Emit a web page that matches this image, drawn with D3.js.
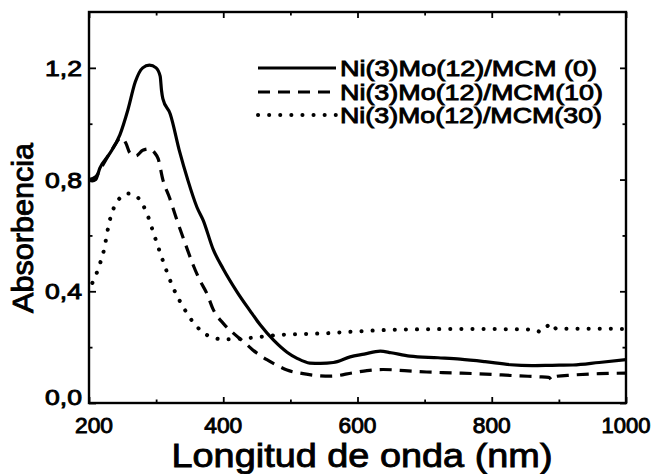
<!DOCTYPE html>
<html><head><meta charset="utf-8">
<script src="https://cdn.jsdelivr.net/npm/d3@7"></script>
<style>body{margin:0;background:#fff}svg{display:block}text{font-family:"Liberation Sans",Arial,sans-serif;fill:#000}</style>
</head><body><svg id="c" width="656" height="474"></svg>
<script>
const seriesNames = ["Ni(3)Mo(12)/MCM (0)", "Ni(3)Mo(12)/MCM(10)", "Ni(3)Mo(12)/MCM(30)"];
const xTicks = [200, 400, 600, 800, 1000];
const yTicks = [0, 0.4, 0.8, 1.2];
const yTickLabels = ["0,0", "0,4", "0,8", "1,2"];
const xMinor = [300, 500, 700, 900];
const yMinor = [0.2, 0.6, 1.0];

const solid = [[200,0.80],[205,0.795],[210,0.80],[216,0.84],[230,0.89],[246,0.96],[258,1.05],[269,1.15],[280,1.20],[290,1.21],[300,1.20],[306,1.17],[308,1.12],[310,1.09],[321,1.035],[335,0.90],[347,0.80],[361,0.70],[370,0.655],[385,0.55],[400,0.48],[420,0.40],[440,0.33],[455,0.28],[475,0.225],[495,0.182],[510,0.16],[529,0.143],[545,0.142],[564,0.145],[589,0.165],[610,0.175],[634,0.186],[650,0.18],[678,0.168],[720,0.162],[753,0.157],[790,0.148],[828,0.137],[860,0.134],[890,0.135],[921,0.136],[960,0.145],[1000,0.155]];
const dashed = [[200,0.80],[210,0.81],[220,0.85],[235,0.91],[248,0.95],[255,0.93],[261,0.895],[270,0.885],[280,0.905],[290,0.91],[298,0.895],[303,0.875],[310,0.80],[320,0.735],[331,0.655],[345,0.56],[355,0.495],[365,0.44],[376,0.39],[385,0.335],[400,0.285],[415,0.25],[430,0.22],[444,0.19],[465,0.155],[480,0.135],[495,0.118],[519,0.105],[540,0.098],[560,0.096],[593,0.108],[614,0.116],[638,0.12],[670,0.116],[703,0.111],[740,0.108],[778,0.105],[842,0.097],[870,0.094],[885,0.092],[890,0.082],[895,0.095],[920,0.10],[960,0.105],[1000,0.107]];
const dotted = [[205,0.43],[209,0.45],[215,0.49],[221,0.535],[231,0.655],[243,0.725],[258,0.75],[273,0.735],[286,0.68],[298,0.595],[310,0.51],[325,0.415],[340,0.345],[355,0.29],[376,0.243],[400,0.228],[435,0.232],[480,0.243],[555,0.25],[604,0.257],[650,0.262],[700,0.264],[760,0.265],[843,0.264],[865,0.262],[872,0.255],[880,0.27],[890,0.285],[896,0.266],[940,0.266],[1000,0.265]];
const seriesData = [solid, dashed, dotted];

const svg = d3.select("#c");
const L = 89, R = 626, T = 12, B = 403;
const x = d3.scaleLinear().domain([200, 1000]).range([L, R]);
const y = d3.scaleLinear().domain([0, 1.4]).range([B, T]);

const styles = [
  {dash: null, width: 3.2, cap: "butt"},
  {dash: "12,8", width: 3.2, cap: "butt"},
  {dash: "0.1,11", width: 4, cap: "round"}
];

const line = d3.line().x(d => x(d[0])).y(d => y(d[1])).curve(d3.curveMonotoneX);
seriesData.forEach((s, i) => {
  svg.append("path").attr("d", line(s)).attr("fill", "none").attr("stroke", "#000")
    .attr("stroke-width", styles[i].width).attr("stroke-dasharray", styles[i].dash)
    .attr("stroke-linecap", styles[i].cap).attr("stroke-linejoin", "round");
});

// frame
svg.append("rect").attr("x", L).attr("y", T).attr("width", R - L).attr("height", B - T)
  .attr("fill", "none").attr("stroke", "#000").attr("stroke-width", 2.4);

// axes with inward ticks
const gB = svg.append("g").attr("transform", `translate(0,${B})`)
  .call(d3.axisBottom(x).tickValues(xTicks).tickSize(-6).tickFormat(""));
const gBm = svg.append("g").attr("transform", `translate(0,${B})`)
  .call(d3.axisBottom(x).tickValues(xMinor).tickSize(-3.5).tickFormat(""));
const gT = svg.append("g").attr("transform", `translate(0,${T})`)
  .call(d3.axisTop(x).tickValues(xTicks).tickSize(-6).tickFormat(""));
const gTm = svg.append("g").attr("transform", `translate(0,${T})`)
  .call(d3.axisTop(x).tickValues(xMinor).tickSize(-3.5).tickFormat(""));
const gL = svg.append("g").attr("transform", `translate(${L},0)`)
  .call(d3.axisLeft(y).tickValues(yTicks).tickSize(-7).tickFormat(""));
const gLm = svg.append("g").attr("transform", `translate(${L},0)`)
  .call(d3.axisLeft(y).tickValues(yMinor).tickSize(-3.5).tickFormat(""));
const gR = svg.append("g").attr("transform", `translate(${R},0)`)
  .call(d3.axisRight(y).tickValues(yTicks).tickSize(-6).tickFormat(""));
const gRm = svg.append("g").attr("transform", `translate(${R},0)`)
  .call(d3.axisRight(y).tickValues(yMinor).tickSize(-3.5).tickFormat(""));
[gB, gBm, gT, gTm, gL, gLm, gR, gRm].forEach(g => {
  g.select(".domain").remove();
  g.selectAll("line").attr("stroke", "#000").attr("stroke-width", 1.8);
});

const tstyle = sel => sel.attr("stroke", "#000").attr("stroke-width", 0.9).attr("lengthAdjust", "spacingAndGlyphs");

// x tick labels
svg.append("g").selectAll("text").data(xTicks).join("text")
  .attr("x", d => x(d) + (d === 200 ? 5 : 0)).attr("y", 433)
  .attr("text-anchor", "middle").attr("font-size", 22)
  .attr("textLength", d => String(d).length === 4 ? 49 : 38)
  .text(d => d).call(tstyle);

// y tick labels
svg.append("g").selectAll("text").data(yTicks).join("text")
  .attr("x", 82).attr("y", (d, i) => y(d) + 8 - (d === 0 ? 6 : 0))
  .attr("text-anchor", "end").attr("font-size", 22).attr("textLength", 37)
  .text((d, i) => yTickLabels[i]).call(tstyle);

// axis titles
svg.append("text").attr("x", 362).attr("y", 467).attr("text-anchor", "middle")
  .attr("font-size", 34).attr("textLength", 381).text("Longitud de onda (nm)").call(tstyle);
svg.append("text").attr("transform", "translate(33,228) rotate(-90)").attr("text-anchor", "middle")
  .attr("font-size", 29).attr("textLength", 170).text("Absorbencia").call(tstyle);

// legend
const legY = [68, 92, 115];
const legW = [257, 263, 262];
seriesNames.forEach((n, i) => {
  svg.append("line").attr("x1", 258).attr("x2", 336).attr("y1", legY[i]).attr("y2", legY[i])
    .attr("stroke", "#000").attr("stroke-width", styles[i].width)
    .attr("stroke-dasharray", styles[i].dash).attr("stroke-linecap", styles[i].cap);
  svg.append("text").attr("x", 340).attr("y", legY[i] + 8).attr("font-size", 22)
    .attr("textLength", legW[i]).text(n).call(tstyle);
});
</script></body></html>
